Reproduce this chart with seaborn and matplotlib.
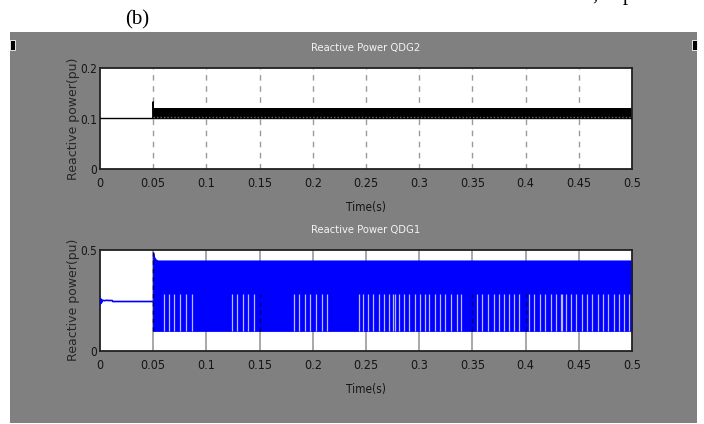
import matplotlib
matplotlib.use("Agg")
import matplotlib.pyplot as plt
from matplotlib.patches import Rectangle
from matplotlib.font_manager import FontProperties
import seaborn as sns
from matplotlib import font_manager

sns.set_style("white")

# ---------------- data ----------------
x_ticks = [0, 0.05, 0.1, 0.15, 0.2, 0.25, 0.3, 0.35, 0.4, 0.45, 0.5]
x_tick_labels = ["0", "0.05", "0.1", "0.15", "0.2", "0.25", "0.3", "0.35", "0.4", "0.45", "0.5"]

# QDG2 (top panel)
qdg2_line_t = [0, 0.05, 0.05, 0.0501, 0.5]
qdg2_line_v = [0.1, 0.1, 0.133, 0.1, 0.1]
qdg2_band_t = [0.05, 0.5]
qdg2_band_low = [0.1, 0.1]
qdg2_band_high = [0.12, 0.12]
qdg2_yticks = [0, 0.1, 0.2]
qdg2_ytick_labels = ["0", "0.1", "0.2"]

# QDG1 (bottom panel)
qdg1_pre_t = [0, 0.0003, 0.0006, 0.001, 0.0015, 0.002, 0.004, 0.006, 0.008, 0.0115, 0.012, 0.05]
qdg1_pre_v = [0.23, 0.26, 0.235, 0.256, 0.24, 0.252, 0.249, 0.251, 0.25, 0.25, 0.245, 0.245]
qdg1_band_t = [0.05, 0.0505, 0.052, 0.054, 0.5]
qdg1_band_high = [0.488, 0.47, 0.455, 0.448, 0.448]
qdg1_band_low = [0.1, 0.1, 0.1, 0.1, 0.1]
qdg1_gap_top = 0.28
qdg1_gap_t = [0.060, 0.065, 0.070, 0.0755, 0.081, 0.086,
              0.1238, 0.1288, 0.1341, 0.1394, 0.1447,
              0.1823, 0.1873, 0.1927, 0.1977, 0.203, 0.2084, 0.2133,
              0.2431, 0.2469, 0.2519, 0.2569, 0.2619, 0.2669, 0.2719, 0.2757, 0.2773,
              0.2807, 0.2857, 0.2907, 0.2958, 0.3008, 0.3057, 0.3095, 0.3146, 0.3195,
              0.3245, 0.3302, 0.3352, 0.3396,
              0.3543, 0.3593, 0.3647, 0.370, 0.3747, 0.3794, 0.3841, 0.3888, 0.394,
              0.4032, 0.4082, 0.4133, 0.4182, 0.4236, 0.4283, 0.433, 0.4345, 0.4377,
              0.4427, 0.4477, 0.4527, 0.4577, 0.4627, 0.4678, 0.4727, 0.4777, 0.4828,
              0.4878, 0.4928, 0.4972]
qdg1_dark_t = [0.15, 0.35, 0.4]
qdg1_yticks = [0, 0.5]
qdg1_ytick_labels = ["0", "0.5"]

# ---------------- fonts ----------------
narrow_path = None
for f in font_manager.fontManager.ttflist:
    st = str(f.stretch).lower()
    if ("condensed" in st or "narrow" in st or "Narrow" in f.name or "Condensed" in f.name) \
            and f.style == "normal" and f.weight in (400, "normal", "regular"):
        if "Serif" in f.name or "Mono" in f.name:
            continue
        narrow_path = f.fname
        break


def nfont(size):
    if narrow_path:
        return FontProperties(fname=narrow_path, size=size)
    return FontProperties(family="Liberation Sans", size=size * 0.9)


GRAY = "#808080"
W, H = 704, 424
fig = plt.figure(figsize=(W / 100, H / 100), dpi=100)
fig.patch.set_facecolor("white")

# gray scope background
fig.patches.append(Rectangle((10 / W, 1 - 423 / H), 687 / W, 391 / H,
                             transform=fig.transFigure, facecolor=GRAY,
                             edgecolor="none", zorder=-5))
for xx in (10, 692):
    fig.patches.append(Rectangle((xx / W, 1 - 50 / H), 4.5 / W, 10 / H,
                                 transform=fig.transFigure, facecolor="black",
                                 edgecolor="white", lw=0.6, zorder=-4))

fig.text(137 / W, 1 - 20 / H, "(b)", family="Liberation Serif", fontsize=15,
         ha="center", va="center", color="black")
fig.text(595 / W, 1.0, ",", family="Liberation Serif", fontsize=15,
         ha="center", va="baseline", color="black")
fig.text(628 / W, 1.0, "p", family="Liberation Serif", fontsize=15,
         ha="center", va="baseline", color="black")


def style_axes(ax, title, yticks, yticklabels, ylim, dashed_grid, ylabel_y):
    ax.set_facecolor("white")
    ax.set_xlim(0, 0.5)
    ax.set_ylim(*ylim)
    ax.set_xticks(x_ticks)
    ax.set_xticklabels(x_tick_labels, fontproperties=nfont(9), color="#151515")
    ax.set_yticks(yticks)
    ax.set_yticklabels(yticklabels, fontproperties=nfont(8.5), color="#151515")
    ax.tick_params(axis="both", length=0)
    ax.tick_params(axis="x", pad=6)
    ax.tick_params(axis="y", pad=2)
    for s in ax.spines.values():
        s.set_color("#202020")
        s.set_linewidth(1.3)
        s.set_visible(True)
    for xt in x_ticks[1:-1]:
        if dashed_grid:
            ax.axvline(xt, color="#9a9a9a", lw=1.0, ls=(0, (4, 4)), zorder=0.5)
        else:
            ax.axvline(xt, color="#a8a8a8", lw=1.4, zorder=0.5)
    ax.set_title(title, fontproperties=nfont(8), color="#f4f4f4", pad=12)
    ax.set_xlabel("Time(s)", fontproperties=nfont(8.5), color="#151515", labelpad=8)
    ax.set_ylabel("")
    fig.text(74 / W, 1 - ylabel_y / H, "Reactive power(pu)", rotation=90,
             fontsize=9, color="#262626", ha="center", va="center",
             family="DejaVu Sans")


# ---------------- top panel ----------------
ax1 = fig.add_axes([100 / W, 1 - 169 / H, 532 / W, 101 / H])
style_axes(ax1, "Reactive Power QDG2", qdg2_yticks, qdg2_ytick_labels,
           (0, 0.2), True, 119)
ax1.fill_between(qdg2_band_t, qdg2_band_low, qdg2_band_high, color="black",
                 lw=0, zorder=2)
sns.lineplot(x=qdg2_line_t, y=qdg2_line_v, ax=ax1, color="black", lw=1.0,
             estimator=None, sort=False, zorder=3)
ax1.hlines(0.1025, 0.05, 0.5, color="#6a6a6a", lw=1.0, ls=(0, (1, 1.5)), zorder=3)

# ---------------- bottom panel ----------------
ax2 = fig.add_axes([100 / W, 1 - 351 / H, 532 / W, 101 / H])
style_axes(ax2, "Reactive Power QDG1", qdg1_yticks, qdg1_ytick_labels,
           (0, 0.5), False, 300)
ax2.fill_between(qdg1_band_t, qdg1_band_low, qdg1_band_high, color="#0000ff",
                 lw=0.8, edgecolor="#0000ff", zorder=2)
sns.lineplot(x=qdg1_pre_t, y=qdg1_pre_v, ax=ax2, color="#0000ff", lw=1.2,
             estimator=None, sort=False, zorder=3)
ax2.vlines(qdg1_gap_t, 0.1, qdg1_gap_top, color="#b8b8ff", lw=0.9, zorder=3)
ax2.vlines(qdg1_dark_t, 0.1, qdg1_gap_top, color="#00006a", lw=1.0,
           ls=(0, (3, 3)), zorder=3)
ax2.vlines([0.05], 0.1, 0.488, color="#00006a", lw=1.0, ls=(0, (3, 3)), zorder=3)

fig.savefig("out.png", dpi=100, facecolor="white")
